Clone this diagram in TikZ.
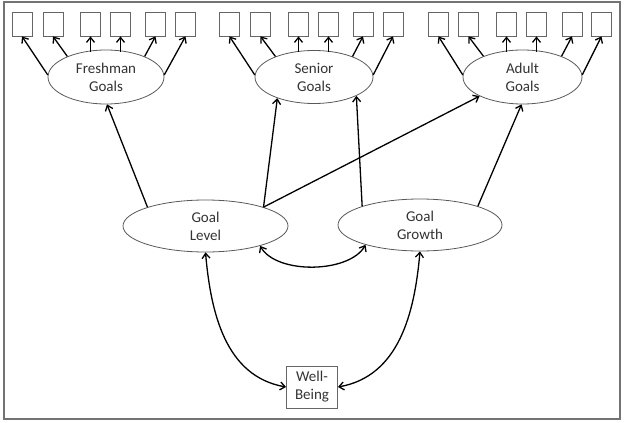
\documentclass[tikz,border=0pt]{standalone}
\usepackage{fontspec}
\setmainfont{Carlito}
\usetikzlibrary{shapes.geometric,arrows.meta}
\begin{document}
\begin{tikzpicture}[x=1pt,y=-1pt,
  every node/.style={font=\fontsize{15}{18}\selectfont, text=black!80, align=center},
  ind/.style={draw=black!60, line width=0.8pt, minimum width=20pt, minimum height=24pt, inner sep=0pt},
  lat/.style={ellipse, draw=black!65, line width=0.8pt, inner sep=0pt},
  arr/.style={line width=1.3pt, -{Straight Barb[length=5pt,width=8pt]}},
  darr/.style={line width=1.3pt, {Straight Barb[length=5pt,width=8pt]}-{Straight Barb[length=5pt,width=8pt]}}]
\useasboundingbox (0,0) rectangle (624,423);
\draw[black!55, line width=1.6pt] (4,2) rectangle (620,419);

% latent ellipses
\node[lat, minimum width=116pt, minimum height=54pt] (fg) at (106,77) {Freshman\\Goals};
\node[lat, minimum width=118pt, minimum height=53pt] (sg) at (314,77) {Senior\\Goals};
\node[lat, minimum width=119pt, minimum height=54pt] (ag) at (522.5,77) {Adult\\Goals};
\node[lat, minimum width=165pt, minimum height=52pt] (gl) at (205.5,226) {Goal\\Level};
\node[lat, minimum width=164pt, minimum height=52pt] (gg) at (420,225) {Goal\\Growth};
\node[ind, minimum width=51pt, minimum height=42pt] (wb) at (312,387) {Well-\\Being};

% indicator boxes
\foreach \n/\x in {f1/22,f2/53,f3/90.5,f4/120.5,f5/155.5,f6/185.5,
                   s1/229.5,s2/260.5,s3/298.5,s4/328.5,s5/363,s6/393,
                   a1/438.5,a2/468.5,a3/506.5,a4/536.5,a5/572,a6/601.5}
  \node[ind] (\n) at (\x,24) {};

% loadings
\foreach \g/\p in {fg/f, sg/s, ag/a}{
  \draw[arr] (\g.178) -- (\p1.south);
  \draw[arr] (\g.152) -- (\p2.south);
  \draw[arr] (\g.north -| \p3.south) ++(0,2) -- (\p3.south);
  \draw[arr] (\g.north -| \p4.south) ++(0,2) -- (\p4.south);
  \draw[arr] (\g.28) -- (\p5.south);
  \draw[arr] (\g.2) -- (\p6.south);
}

% structural paths
\draw[arr] (gl.162) -- (fg.-88);
\draw[arr] (gl.18) -- (sg.-150);
\draw[arr] (gl.18) -- (ag.-156);
\draw[arr] (gg.162) -- (sg.-24);
\draw[arr] (gg.18) -- (ag.-92);

% covariances
\draw[darr] (gl.-20) to[out=-60,in=-120,looseness=0.8] (gg.200);
\draw[darr] (gl.south) to[out=-85,in=170] (wb.west);
\draw[darr] (gg.south) to[out=-95,in=10] (wb.east);
\end{tikzpicture}
\end{document}
